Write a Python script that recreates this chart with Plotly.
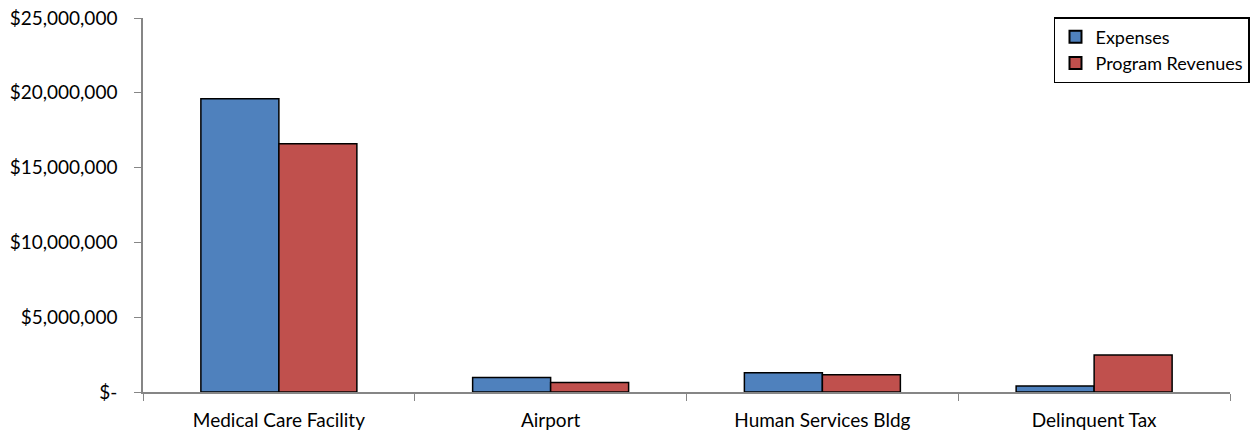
import plotly.graph_objects as go

categories = ["Medical Care Facility", "Airport", "Human Services Bldg", "Delinquent Tax"]
expenses = [19600000, 970000, 1290000, 400000]
program_revenues = [16600000, 640000, 1150000, 2480000]
tick_vals = [0, 5000000, 10000000, 15000000, 20000000, 25000000]
tick_text = ["$-", "$5,000,000", "$10,000,000", "$15,000,000", "$20,000,000", "$25,000,000"]

FONT = "Lato, 'Open Sans', sans-serif"

fig = go.Figure()
fig.add_trace(go.Bar(name="Expenses", x=categories, y=expenses,
                     marker=dict(color="#4F81BD", line=dict(color="#000000", width=1.5))))
fig.add_trace(go.Bar(name="Program Revenues", x=categories, y=program_revenues,
                     marker=dict(color="#C0504D", line=dict(color="#000000", width=1.5))))

fig.update_layout(
    width=1252, height=436,
    margin=dict(l=143, r=22, t=18, b=44, autoexpand=False),
    paper_bgcolor="white", plot_bgcolor="white",
    barmode="group", bargap=0.426, bargroupgap=0,
    font=dict(family=FONT, size=19, color="#000000"),
    legend=dict(xref="container", yref="container",
                x=0.9984, xanchor="right", y=0.961, yanchor="top",
                bordercolor="#000000", borderwidth=1.5, bgcolor="white",
                font=dict(size=18), tracegroupgap=0, itemwidth=30,
                itemsizing="constant"),
    showlegend=True,
)
fig.update_xaxes(showline=True, linecolor="#868686", linewidth=1.5,
                 ticks="outside", tickson="boundaries", ticklen=7, tickcolor="#868686",
                 showgrid=False, tickfont=dict(size=19), ticklabelstandoff=10)
fig.update_yaxes(range=[0, 25000000], tickvals=tick_vals, ticktext=tick_text,
                 showline=True, linecolor="#868686", linewidth=1.5,
                 ticks="outside", ticklen=7, tickcolor="#868686",
                 showgrid=False, zeroline=False, tickfont=dict(size=19),
                 ticklabelstandoff=13)

fig.write_html("out.html")
